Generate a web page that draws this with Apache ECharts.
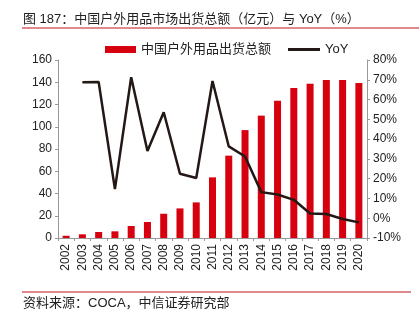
<!DOCTYPE html>
<html><head><meta charset="utf-8">
<script src="https://cdn.jsdelivr.net/npm/echarts@6/dist/echarts.min.js"></script>
<style>html,body{margin:0;padding:0;background:#fff}#c{width:419px;height:321px}</style>
</head><body><div id="c"></div>
<script>
var years = ['2002','2003','2004','2005','2006','2007','2008','2009','2010','2011','2012','2013','2014','2015','2016','2017','2018','2019','2020'];
var shipment = [2, 3.3, 5.4, 6, 10.8, 14.4, 21.8, 26.6, 32, 54.5, 74, 97, 110, 123.4, 134.8, 138.7, 142, 142, 139.3];
var yoy = [null, 68.8, 68.9, 14.7, 71.3, 34, 53.6, 22.5, 20.3, 69.4, 36.3, 31.2, 13.2, 12, 9.3, 2.4, 2.1, -0.4, -2.1];
var leftTicks = {min: 0, max: 160, interval: 20};
var rightTicks = {min: -10, max: 80, interval: 10};
var titleText = '图 187：中国户外用品市场出货总额（亿元）与 YoY（%）';
var sourceText = '资料来源：COCA，中信证券研究部';
var barName = '中国户外用品出货总额';
var lineName = 'YoY';

var FONT = '"Liberation Sans", "Noto Sans CJK SC", sans-serif';
var chart = echarts.init(document.getElementById('c'), null, {renderer: 'canvas'});
chart.setOption({
  animation: false,
  textStyle: {fontFamily: FONT},
  graphic: [
    {type: 'text', left: 23, top: 13, style: {text: titleText, font: '13px ' + FONT, fill: '#222'}},
    {type: 'line', shape: {x1: 22, y1: 28, x2: 419, y2: 28}, style: {stroke: '#c0141d', lineWidth: 1}},
    {type: 'line', shape: {x1: 22, y1: 292, x2: 411, y2: 292}, style: {stroke: '#c0141d', lineWidth: 1}},
    {type: 'text', left: 23, top: 297, style: {text: sourceText, font: '13px ' + FONT, fill: '#222'}}
  ],
  legend: [
    {top: 38, left: 100, itemWidth: 31, itemHeight: 7, itemGap: 5,
     textStyle: {fontSize: 13, color: '#222', fontFamily: FONT},
     data: [{name: barName, icon: 'rect'}]},
    {top: 38, left: 283, itemWidth: 32, itemHeight: 3, itemGap: 5,
     textStyle: {fontSize: 13, color: '#222', fontFamily: FONT},
     data: [{name: lineName, icon: 'rect', itemStyle: {color: '#231815'}}]}
  ],
  grid: {left: 58, right: 52, top: 60, bottom: 83},
  xAxis: {
    type: 'category', data: years,
    axisLine: {lineStyle: {color: '#999'}},
    axisTick: {show: true, length: 3, lineStyle: {color: '#999'}},
    axisLabel: {rotate: 90, fontSize: 12, color: '#222', margin: 6, interval: 0}
  },
  yAxis: [
    {type: 'value', min: leftTicks.min, max: leftTicks.max, interval: leftTicks.interval,
     axisLine: {show: true, lineStyle: {color: '#999'}},
     axisTick: {show: true, length: 3, lineStyle: {color: '#999'}},
     splitLine: {show: false},
     axisLabel: {fontSize: 12, color: '#222', margin: 6}},
    {type: 'value', min: rightTicks.min, max: rightTicks.max, interval: rightTicks.interval,
     position: 'right',
     axisLine: {show: true, lineStyle: {color: '#999'}},
     axisTick: {show: true, length: 3, lineStyle: {color: '#999'}},
     splitLine: {show: false},
     axisLabel: {fontSize: 12, color: '#222', margin: 6, formatter: '{value}%'}}
  ],
  series: [
    {name: barName, type: 'bar', data: shipment, barWidth: 7, itemStyle: {color: '#d7000f'}},
    {name: lineName, type: 'line', yAxisIndex: 1, data: yoy, symbol: 'none',
     lineStyle: {color: '#231815', width: 2.5}, itemStyle: {color: '#231815'}}
  ]
});
</script></body></html>
